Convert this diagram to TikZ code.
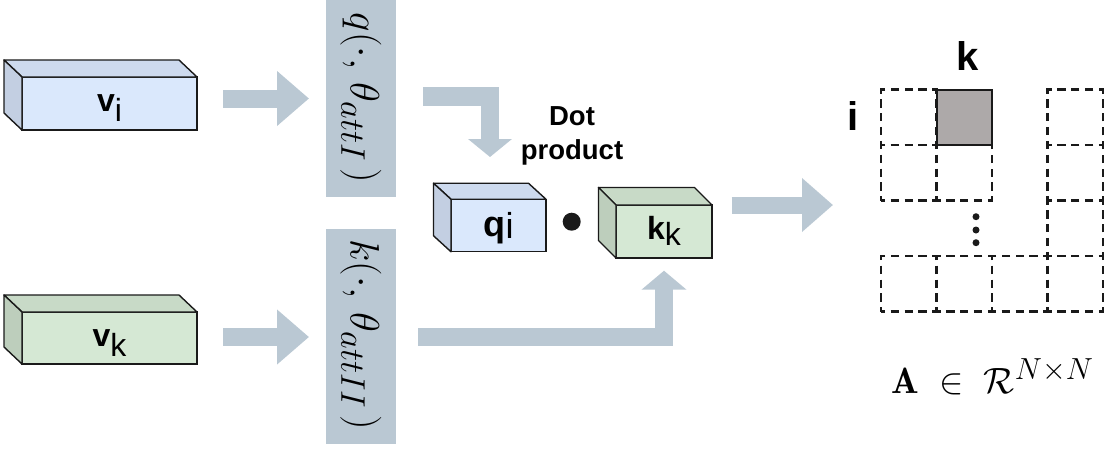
\documentclass[tikz,border=0pt]{standalone}
\usepackage{fontspec}
\setsansfont{Liberation Sans}
\usetikzlibrary{arrows.meta,calc}

\definecolor{flow}{HTML}{BAC8D3}
\definecolor{bluefront}{HTML}{DAE8FC}
\definecolor{bluetop}{HTML}{CDDAEE}
\definecolor{blueside}{HTML}{C3CFE2}
\definecolor{greenfront}{HTML}{D5E8D4}
\definecolor{greentop}{HTML}{C8DAC7}
\definecolor{greenside}{HTML}{BDCEBC}
\definecolor{cellfill}{HTML}{ADA9A9}
\definecolor{ink}{HTML}{1A1A1A}

% top and left faces of a box whose front face is node #1
\newcommand\cubesides[5]{%
  \filldraw[cubeline, fill=#4] (#1.north west) -- ++(-#2,-#3)
    -- ($(#1.north east)+(-#2,-#3)$) -- (#1.north east) -- cycle;
  \filldraw[cubeline, fill=#5] (#1.north west) -- ++(-#2,-#3)
    -- ($(#1.south west)+(-#2,-#3)$) -- (#1.south west) -- cycle;
}

\begin{document}
\begin{tikzpicture}[x=1pt,y=-1pt,
  cubeline/.style={draw=ink, line width=1.4pt, line join=round},
  face/.style={rectangle, draw=ink, line width=1.4pt, inner sep=0pt, outer sep=0pt},
  boxlbl/.style={inner sep=0pt, font=\sffamily\fontsize{32}{36}\selectfont},
  band/.style={rectangle, fill=flow, inner sep=0pt, minimum width=70pt},
  bandtxt/.style={inner sep=0pt, font=\Huge, scale=1.65},
  flowarrow/.style={draw=flow, line width=18pt, line join=miter},
  % 55.5pt edges hold exactly four dash periods; the half-dash phase
  % makes every edge symmetric, so shared edges of neighbouring cells coincide
  cell/.style={rectangle, draw=ink, line width=2.4pt,
    dash pattern=on 8.3pt off 5.575pt, dash phase=4.15pt,
    minimum size=55.5pt, inner sep=0pt, outer sep=0pt},
  headlbl/.style={inner sep=0pt, font=\sffamily\bfseries\fontsize{40}{44}\selectfont}]

\useasboundingbox (0,0) rectangle (1104,451);

% input feature boxes
\node[face, fill=bluefront, minimum width=175pt, minimum height=53pt] (vi) at (109.5,103.5) {};
\cubesides{vi}{18}{17}{bluetop}{blueside}
\node[boxlbl, anchor=base] (vilbl) at ([yshift=-8.2pt]vi.center) {\textbf{v}\raisebox{-10pt}{i}};

\node[face, fill=greenfront, minimum width=175pt, minimum height=52pt] (vk) at (109.5,338) {};
\cubesides{vk}{18}{17}{greentop}{greenside}
\node[boxlbl, anchor=base] (vklbl) at ([yshift=-8.7pt]vk.center) {\textbf{v}\raisebox{-10pt}{k}};

% projection bands
\node[band, minimum height=197pt] (qband) at (361,98.5) {};
\node[bandtxt, rotate=-90] (qtxt) at (361,98) {$q(\cdot,\,\theta_{attI}\,)$};
\node[band, minimum height=215pt] (kband) at (361,336.5) {};
\node[bandtxt, rotate=-90] (ktxt) at (361,335) {$k(\cdot,\,\theta_{attII}\,)$};

% query and key boxes
\node[face, fill=bluefront, minimum width=95pt, minimum height=52.5pt] (qi) at (498.5,225.5) {};
\cubesides{qi}{17.5}{16}{bluetop}{blueside}
\node[boxlbl, anchor=base, font=\sffamily\fontsize{36}{40}\selectfont] (qilbl) at ([yshift=-11pt]qi.center) {\textbf{q}\raisebox{-2pt}{i}};

\node[face, fill=greenfront, minimum width=96pt, minimum height=53pt] (kk) at (664,231.5) {};
\cubesides{kk}{17.5}{17.5}{greentop}{greenside}
\node[boxlbl, anchor=base] (kklbl) at ([yshift=-8pt]kk.center) {\textbf{k}\raisebox{-6pt}{k}};

\fill[ink] (571.7,221.7) circle (9pt);
\node[inner sep=0pt, align=center, font=\sffamily\bfseries\fontsize{27.5}{33.6}\selectfont] (dotlbl) at (572,136) {Dot\\product};

% flow arrows
\coordinate (a1s) at (223,98.5);  \coordinate (a1e) at (309,98.5);
\coordinate (a2s) at (223,337);   \coordinate (a2e) at (309,337);
\coordinate (a3s) at (423,96.7);  \coordinate (a3e) at (490,157);
\coordinate (a4s) at (418,337);   \coordinate (a4e) at (664,270.7);
\coordinate (a5s) at (731.7,205); \coordinate (a5e) at (833,205);

\draw[flowarrow, -{Triangle[width=53pt,length=32pt]}] (a1s) -- (a1e);
\draw[flowarrow, -{Triangle[width=53pt,length=32pt]}] (a2s) -- (a2e);
\draw[flowarrow, line width=18.5pt, -{Triangle[width=43pt,length=18pt]}] (a3s) -| (a3e);
\draw[flowarrow, -{Triangle[width=44pt,length=19pt]}] (a4s) -| (a4e);
\draw[flowarrow, line width=17pt, -{Triangle[width=52pt,length=31pt]}] (a5s) -- (a5e);

% attention matrix
\node[cell] (m00) at (908.75,117.25) {};
\node[cell] (m01) at (908.75,172.75) {};
\node[cell] (m11) at (964.25,172.75) {};
\node[cell] (m30) at (1075.25,117.25) {};
\node[cell] (m31) at (1075.25,172.75) {};
\node[cell] (m32) at (1075.25,228.25) {};
\node[cell] (m03) at (908.75,283.75) {};
\node[cell] (m13) at (964.25,283.75) {};
\node[cell] (m23) at (1019.75,283.75) {};
\node[cell] (m33) at (1075.25,283.75) {};
\node[cell, solid, line width=2pt, fill=cellfill] (mik) at (964.25,117.25) {};

\fill[ink] (976,216.7) circle (3.5pt);
\fill[ink] (976,230) circle (3.5pt);
\fill[ink] (976,242.7) circle (3.5pt);

\node[headlbl, anchor=base] (klbl) at (968,70) {k};
\node[headlbl, anchor=base] (ilbl) at (853.5,130) {i};

\node[anchor=base west, inner sep=0pt, font=\Huge, scale=1.47] (amath) at (891,393)
  {$\mathbf{A}\;\in\;\mathcal{R}^{N{\times}N}$};
\end{tikzpicture}
\end{document}
